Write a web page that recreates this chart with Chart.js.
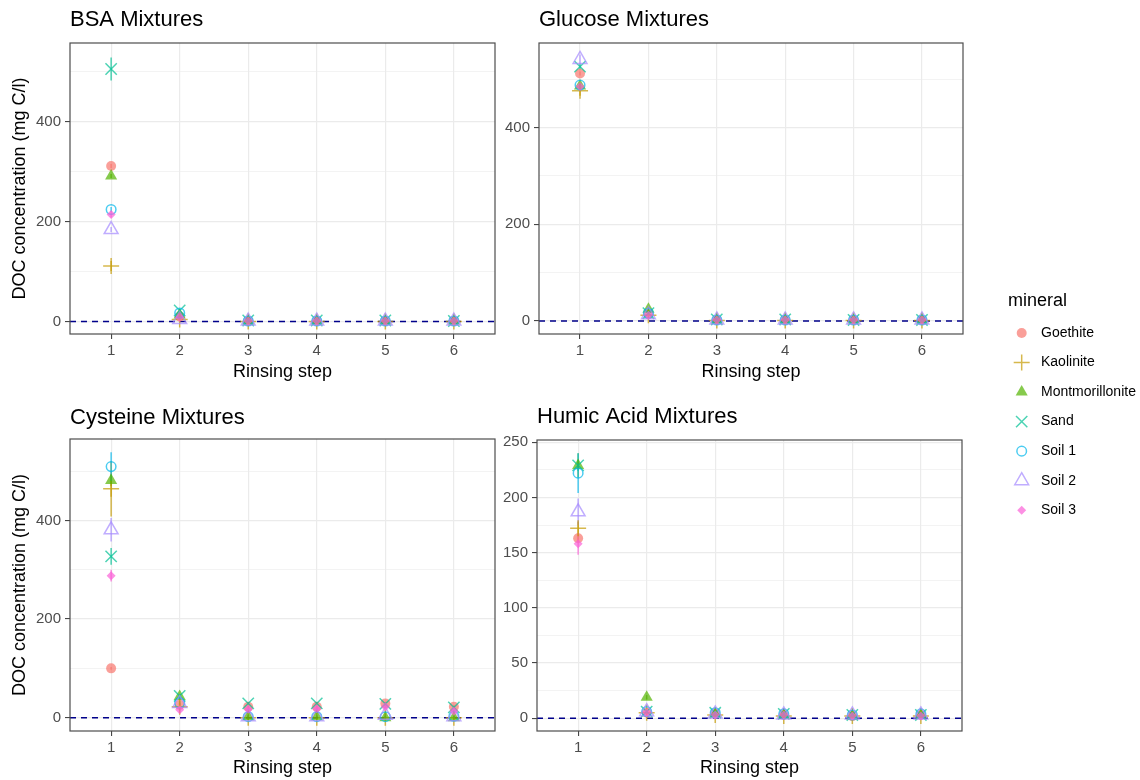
<!DOCTYPE html>
<html lang="en">
<head>
<meta charset="UTF-8">
<title>DOC rinsing steps</title>
<script src="https://cdn.jsdelivr.net/npm/chart.js"></script>
<style>
  body { margin: 0; background: #fff; }
  #wrap { position: relative; width: 1140px; height: 780px; }
  canvas { position: absolute; }
</style>
</head>
<body>
<div id="wrap">
  <canvas id="bsaChart" width="500" height="390" style="left:0;top:0"></canvas>
  <canvas id="glucoseChart" width="470" height="390" style="left:500px;top:0"></canvas>
  <canvas id="cysteineChart" width="500" height="390" style="left:0;top:390px"></canvas>
  <canvas id="humicChart" width="470" height="390" style="left:500px;top:390px"></canvas>
  <canvas id="legendChart" width="150" height="260" style="left:990px;top:285px"></canvas>
</div>
<script>
const steps = [1, 2, 3, 4, 5, 6];
const minerals = ['Goethite', 'Kaolinite', 'Montmorillonite', 'Sand', 'Soil 1', 'Soil 2', 'Soil 3'];
const colors = ['#F8766D', '#C49A00', '#53B400', '#00C094', '#00B6EB', '#A58AFF', '#FB61D7'];

// DOC (mg C/l): one row per mineral, one column per rinsing step
const bsaValues = [
  [311, 10, 1, 1, 1, 1],
  [111, 4, 0, 0, 0, 0],
  [291, 13, 1, 1, 1, 1],
  [505, 22, 2, 2, 2, 1],
  [224, 17, 1, 1, 1, 1],
  [184, 4, 1, 1, 1, 1],
  [214, 8, 1, 1, 1, 1]
];
const bsaErrors = [
  [4, 0, 0, 0, 0, 0],
  [10, 2, 0, 0, 0, 0],
  [4, 0, 0, 0, 0, 0],
  [23, 3, 0, 0, 0, 0],
  [5, 0, 0, 0, 0, 0],
  [5, 0, 0, 0, 0, 0],
  [6, 0, 0, 0, 0, 0]
];
const glucoseValues = [
  [512, 14, 2, 2, 2, 2],
  [476, 12, 1, 1, 1, 1],
  [486, 24, 2, 2, 2, 2],
  [526, 16, 3, 3, 2, 2],
  [488, 16, 2, 2, 2, 2],
  [541, 13, 2, 2, 2, 2],
  [485, 12, 2, 2, 2, 2]
];
const glucoseErrors = [
  [4, 0, 0, 0, 0, 0],
  [10, 3, 0, 0, 0, 0],
  [5, 6, 0, 0, 0, 0],
  [6, 0, 0, 0, 0, 0],
  [5, 0, 0, 0, 0, 0],
  [10, 0, 0, 0, 0, 0],
  [5, 0, 0, 0, 0, 0]
];
const cysteineValues = [
  [100, 26, 22, 22, 29, 22],
  [464, 22, 0, 0, 0, 0],
  [481, 43, 2, 2, 0, 0],
  [327, 44, 29, 29, 28, 21],
  [509, 30, 2, 2, 2, 3],
  [381, 29, 2, 2, 5, 2],
  [288, 16, 17, 18, 22, 13]
];
const cysteineErrors = [
  [3, 4, 3, 3, 3, 3],
  [56, 8, 5, 4, 3, 3],
  [12, 5, 2, 2, 2, 2],
  [17, 4, 3, 3, 3, 3],
  [29, 4, 2, 2, 2, 2],
  [24, 4, 2, 2, 3, 2],
  [12, 6, 3, 3, 3, 3]
];
const humicValues = [
  [163, 5, 4, 3, 2, 3],
  [172, 5, 3, 2, 2, 2],
  [229, 19, 4, 3, 2, 3],
  [229, 6, 5, 4, 3, 3],
  [222, 6, 5, 4, 3, 4],
  [187, 6, 4, 3, 3, 3],
  [158, 5, 3, 3, 2, 2]
];
const humicErrors = [
  [3, 1, 1, 1, 1, 1],
  [6, 2, 3, 3, 3, 3],
  [11, 2, 1, 1, 1, 1],
  [5, 1, 1, 1, 1, 1],
  [18, 1, 1, 1, 1, 1],
  [12, 1, 1, 1, 1, 1],
  [10, 1, 1, 1, 1, 1]
];

// axis breaks
const xTicks = [1, 2, 3, 4, 5, 6];
const bigTicks = [0, 200, 400];
const bigMinor = [100, 300, 500];
const humicTicks = [0, 50, 100, 150, 200, 250];
const humicMinor = [25, 75, 125, 175, 225];

Chart.defaults.font.family = '"Liberation Sans", Arial, sans-serif';

const shapes = [
  { pointStyle: 'circle', radius: 5, filled: true },
  { pointStyle: 'cross', radius: 8, filled: false },
  { pointStyle: 'triangle', radius: 7, filled: true },
  { pointStyle: 'crossRot', radius: 8, filled: false },
  { pointStyle: 'circle', radius: 4.8, filled: false },
  { pointStyle: 'triangle', radius: 8, filled: false },
  { pointStyle: 'rectRot', radius: 4.5, filled: true }
];

function fade(hex, a) {
  const n = parseInt(hex.slice(1), 16);
  return `rgba(${n >> 16},${(n >> 8) & 255},${n & 255},${a})`;
}

function markStyle(i) {
  const s = shapes[i];
  const c = fade(colors[i], 0.7);
  return {
    pointStyle: s.pointStyle,
    pointRadius: s.radius,
    pointHoverRadius: s.radius,
    backgroundColor: s.filled ? c : 'rgba(0,0,0,0)',
    borderColor: c,
    borderWidth: s.filled ? 0 : 1.5
  };
}

// vertical error bars, drawn under the points
const errorBars = {
  id: 'errorBars',
  beforeDatasetsDraw(chart) {
    const { ctx, scales: { x, y } } = chart;
    chart.data.datasets.forEach(ds => {
      if (!ds.errors) return;
      ctx.save();
      ctx.strokeStyle = ds.borderColor;
      ctx.lineWidth = 1.5;
      ds.data.forEach((p, j) => {
        const e = ds.errors[j];
        if (!e) return;
        const px = x.getPixelForValue(p.x);
        ctx.beginPath();
        ctx.moveTo(px, y.getPixelForValue(p.y - e));
        ctx.lineTo(px, y.getPixelForValue(p.y + e));
        ctx.stroke();
      });
      ctx.restore();
    });
  }
};

// panel frame all the way round
const panelBorder = {
  id: 'panelBorder',
  afterDatasetsDraw(chart) {
    const { ctx, chartArea: a } = chart;
    ctx.save();
    ctx.strokeStyle = '#4d4d4d';
    ctx.lineWidth = 1.2;
    ctx.strokeRect(a.left, a.top, a.right - a.left, a.bottom - a.top);
    ctx.restore();
  }
};

function makePanel(id, p) {
  const datasets = minerals.map((name, i) => Object.assign({
    label: name,
    data: steps.map((s, j) => ({ x: s, y: p.values[i][j] })),
    errors: p.errors[i],
    order: minerals.length - i
  }, markStyle(i)));
  // dashed zero line
  datasets.push({
    label: 'zero',
    data: [{ x: 0.4, y: 0 }, { x: 6.6, y: 0 }],
    showLine: true,
    borderColor: '#00008B',
    borderDash: [6, 5],
    borderWidth: 1.5,
    pointRadius: 0,
    order: 20
  });

  return new Chart(document.getElementById(id), {
    type: 'scatter',
    data: { datasets },
    options: {
      responsive: false,
      animation: false,
      layout: { autoPadding: false, padding: { right: p.padRight } },
      plugins: {
        legend: { display: false },
        tooltip: { enabled: false },
        title: {
          display: true,
          text: p.title,
          align: 'start',
          fullSize: false,
          color: '#000',
          font: { size: 22, weight: 'normal' },
          padding: p.titlePad
        }
      },
      scales: {
        x: {
          type: 'linear',
          min: 0.4,
          max: 6.6,
          afterBuildTicks: s => { s.ticks = xTicks.map(v => ({ value: v })); },
          afterFit: s => { s.height = p.xHeight; },
          border: { display: false },
          grid: { color: '#ebebeb', lineWidth: 1.2, tickColor: '#333', tickLength: 5, tickWidth: 1 },
          ticks: { color: '#4d4d4d', font: { size: 15 }, padding: 3 },
          title: {
            display: true,
            text: 'Rinsing step',
            color: '#000',
            font: { size: 18 },
            padding: { top: 0, bottom: p.xTitlePad }
          }
        },
        y: {
          type: 'linear',
          min: p.yMin,
          max: p.yMax,
          afterBuildTicks: s => {
            s.ticks = p.major.concat(p.minor).map(v => ({ value: v }));
          },
          afterFit: s => { s.width = p.yWidth; },
          border: { display: false },
          grid: {
            color: '#ebebeb',
            lineWidth: c => p.major.includes(c.tick.value) ? 1.2 : 0.6,
            tickColor: c => p.major.includes(c.tick.value) ? '#333' : 'rgba(0,0,0,0)',
            tickLength: 5,
            tickWidth: 1
          },
          ticks: {
            color: '#4d4d4d',
            font: { size: 15 },
            padding: 4,
            callback: v => p.major.includes(v) ? String(v) : ''
          },
          title: {
            display: p.yTitle,
            text: 'DOC concentration (mg C/l)',
            color: '#000',
            font: { size: 18 },
            padding: { top: 9.2, bottom: 0 }
          }
        }
      }
    },
    plugins: [errorBars, panelBorder]
  });
}

makePanel('bsaChart', {
  title: 'BSA Mixtures', values: bsaValues, errors: bsaErrors,
  yMin: -25, yMax: 557, major: bigTicks, minor: bigMinor,
  titlePad: { top: 6.8, bottom: 9.8 }, xHeight: 56, xTitlePad: 7.2,
  yWidth: 70, yTitle: true, padRight: 5
});
makePanel('glucoseChart', {
  title: 'Glucose Mixtures', values: glucoseValues, errors: glucoseErrors,
  yMin: -27, yMax: 575, major: bigTicks, minor: bigMinor,
  titlePad: { top: 6.8, bottom: 9.8 }, xHeight: 56, xTitlePad: 7.2,
  yWidth: 39, yTitle: false, padRight: 7
});
makePanel('cysteineChart', {
  title: 'Cysteine Mixtures', values: cysteineValues, errors: cysteineErrors,
  yMin: -27, yMax: 565, major: bigTicks, minor: bigMinor,
  titlePad: { top: 15.1, bottom: 7.5 }, xHeight: 49, xTitlePad: 1.2,
  yWidth: 70, yTitle: true, padRight: 5
});
makePanel('humicChart', {
  title: 'Humic Acid Mixtures', values: humicValues, errors: humicErrors,
  yMin: -11.5, yMax: 252, major: humicTicks, minor: humicMinor,
  titlePad: { top: 13.5, bottom: 10.1 }, xHeight: 49, xTitlePad: 1.2,
  yWidth: 37, yTitle: false, padRight: 8
});

// shared key: one point per mineral, names as right-hand tick labels
new Chart(document.getElementById('legendChart'), {
  type: 'scatter',
  data: {
    datasets: minerals.map((name, i) => Object.assign({
      label: name,
      data: [{ x: 0, y: i }]
    }, markStyle(i)))
  },
  options: {
    responsive: false,
    animation: false,
    layout: { autoPadding: false, padding: { left: 18, bottom: 20 } },
    plugins: {
      legend: { display: false },
      tooltip: { enabled: false },
      title: {
        display: true,
        text: 'mineral',
        align: 'start',
        color: '#000',
        font: { size: 18, weight: 'normal' },
        padding: { top: 5.2, bottom: 6.45 }
      }
    },
    scales: {
      x: { display: false, min: -1, max: 0.9 },
      y: {
        position: 'right',
        reverse: true,
        min: -0.5,
        max: 6.5,
        border: { display: false },
        grid: { display: false, drawTicks: false },
        afterBuildTicks: s => { s.ticks = minerals.map((m, i) => ({ value: i })); },
        afterFit: s => { s.width = 106; },
        ticks: { color: '#000', font: { size: 14 }, padding: 7, callback: v => minerals[v] }
      }
    }
  }
});
</script>
</body>
</html>
